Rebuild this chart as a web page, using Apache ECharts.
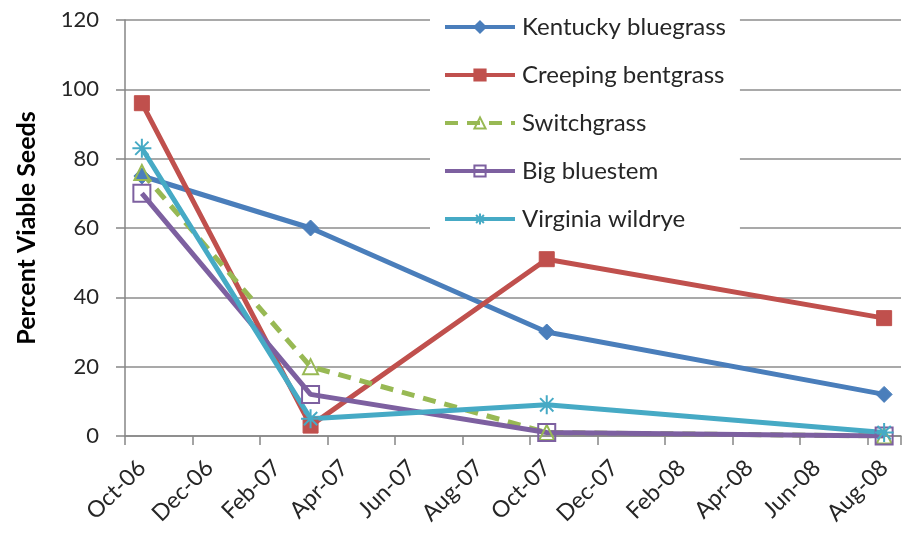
<!DOCTYPE html>
<html>
<head>
<meta charset="utf-8">
<script src="https://cdn.jsdelivr.net/npm/echarts@6/dist/echarts.min.js"></script>
<style>
  html, body { margin: 0; padding: 0; background: #ffffff; }
  #chart { width: 906px; height: 535px; }
</style>
</head>
<body>
<div id="chart"></div>
<script>
// Monthly axis slots, October 2006 through August 2008
const months = ['Oct-06', 'Nov-06', 'Dec-06', 'Jan-07', 'Feb-07', 'Mar-07', 'Apr-07', 'May-07',
  'Jun-07', 'Jul-07', 'Aug-07', 'Sep-07', 'Oct-07', 'Nov-07', 'Dec-07', 'Jan-08', 'Feb-08',
  'Mar-08', 'Apr-08', 'May-08', 'Jun-08', 'Jul-08', 'Aug-08'];

// Sampling dates
const sampleMonths = ['Oct-06', 'Mar-07', 'Oct-07', 'Aug-08'];

// Percent viable seeds per species at each sampling date
const kentuckyBluegrass = [75, 60, 30, 12];
const creepingBentgrass = [96, 3, 51, 34];
const switchgrass = [76, 20, 1, 0];
const bigBluestem = [70, 12, 1, 0];
const virginiaWildrye = [83, 5, 9, 1];

const yTicks = [0, 20, 40, 60, 80, 100, 120];

const FONT = 'Lato';
const pair = vals => sampleMonths.map((m, i) => [m, vals[i]]);

// asterisk marker built from stroked segments
const asterisk = 'path://M0,5L10,5M5,0L5,10M1.5,1.5L8.5,8.5M8.5,1.5L1.5,8.5';

const seriesDefs = [
  { name: 'Kentucky bluegrass', data: kentuckyBluegrass, color: '#4A7EBB',
    symbol: 'diamond', symbolSize: 16, hollow: false, dash: 'solid' },
  { name: 'Creeping bentgrass', data: creepingBentgrass, color: '#C0504D',
    symbol: 'rect', symbolSize: 15, hollow: false, dash: 'solid' },
  { name: 'Switchgrass', data: switchgrass, color: '#98B954',
    symbol: 'triangle', symbolSize: 15, hollow: true, dash: [13, 9] },
  { name: 'Big bluestem', data: bigBluestem, color: '#7D60A0',
    symbol: 'rect', symbolSize: 17, hollow: true, dash: 'solid' },
  { name: 'Virginia wildrye', data: virginiaWildrye, color: '#46AAC5',
    symbol: asterisk, symbolSize: 19, hollow: true, dash: 'solid' }
];

const chart = echarts.init(document.getElementById('chart'), null, { renderer: 'canvas' });

chart.setOption({
  animation: false,
  backgroundColor: '#ffffff',
  grid: { left: 125, right: 5, top: 20, bottom: 99, containLabel: false },
  legend: {
    orient: 'vertical',
    left: 430,
    top: 2,
    itemWidth: 70,
    itemHeight: 14,
    itemGap: 24,
    padding: [13, 14, 10, 13],
    backgroundColor: '#ffffff',
    lineStyle: { width: 4 },
    textStyle: { fontFamily: FONT, fontSize: 24, lineHeight: 24, color: '#262626', padding: [0, 0, 0, 2] },
    data: seriesDefs.map(s => s.name)
  },
  xAxis: {
    type: 'category',
    data: months,
    boundaryGap: true,
    axisLine: { show: true, lineStyle: { color: '#868686', width: 1.5 } },
    axisTick: { show: true, interval: 1, length: 9, lineStyle: { color: '#868686', width: 1.5 } },
    axisLabel: {
      interval: 1, rotate: 45, margin: 28,
      fontFamily: FONT, fontSize: 23, color: '#262626'
    },
    splitLine: { show: false }
  },
  yAxis: {
    type: 'value',
    min: 0, max: 120, interval: 20,
    name: 'Percent Viable Seeds',
    nameLocation: 'middle',
    nameGap: 86,
    nameRotate: 90,
    nameTextStyle: { fontFamily: FONT, fontSize: 25, fontWeight: 'bold', color: '#000000' },
    axisLine: { show: true, lineStyle: { color: '#868686', width: 1.5 } },
    axisTick: { show: true, length: 9, lineStyle: { color: '#868686', width: 1.5 } },
    axisLabel: {
      margin: 26, fontFamily: FONT, fontSize: 22, color: '#262626',
      formatter: v => (yTicks.includes(v) ? String(v) : '')
    },
    splitLine: { show: true, lineStyle: { color: '#8c8c8c', width: 1.5 } }
  },
  series: seriesDefs.map(s => ({
    name: s.name,
    type: 'line',
    data: pair(s.data),
    color: s.color,
    symbol: s.symbol,
    symbolSize: s.symbolSize,
    showAllSymbol: true,
    lineStyle: { color: s.color, width: 5, type: s.dash },
    itemStyle: s.hollow
      ? { color: 'rgba(255,255,255,0)', borderColor: s.color, borderWidth: 2 }
      : { color: s.color, borderColor: s.color, borderWidth: 1 },
    emphasis: { disabled: true },
    z: 3
  }))
});
</script>
</body>
</html>
